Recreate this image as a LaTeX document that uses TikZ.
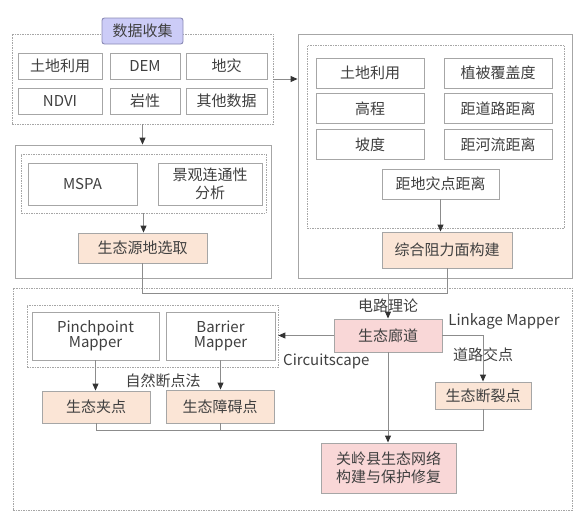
\documentclass[tikz,border=0pt]{standalone}
\usepackage{fontspec}
\setmainfont{Noto Sans CJK SC}
\usetikzlibrary{arrows.meta}
\definecolor{bordergray}{HTML}{A6A6A6}
\definecolor{linegray}{HTML}{8C8C8C}
\definecolor{txt}{HTML}{404040}
\definecolor{peach}{HTML}{FBE5D6}
\definecolor{pinkf}{HTML}{F9D7D7}
\definecolor{lav}{HTML}{CCCCF7}
\definecolor{lavb}{HTML}{8A8AB5}
\tikzset{
  box/.style={draw=bordergray, line width=0.9pt, fill=white, inner sep=0pt, text=txt,
    font=\fontsize{15}{18}\selectfont, align=center},
  pbox/.style={box, fill=peach},
  kbox/.style={box, fill=pinkf},
  dbox/.style={draw=bordergray, line width=0.7pt, dash pattern=on 1.5pt off 1pt, inner sep=0pt},
  sbox/.style={draw=bordergray, line width=0.9pt, inner sep=0pt},
  conn/.style={draw=linegray, line width=0.9pt},
  arr/.style={conn, -{Triangle[length=7pt,width=6pt,color=black!80]}},
  lbl/.style={text=txt, font=\fontsize{15}{18}\selectfont, inner sep=0pt}
}
\begin{document}
\begin{tikzpicture}[x=1pt,y=-1pt]
\useasboundingbox (0,0) rectangle (586,522);
% data collection
\node[dbox, minimum width=261pt, minimum height=90pt] (dc) at (142.5,79) {};
\node[box, fill=lav, draw=lavb, rounded corners=2.5pt, minimum width=81pt, minimum height=26pt] (title) at (142.5,31) {数据收集};
\node[box, minimum width=84pt, minimum height=26pt] (a1) at (60,66) {土地利用};
\node[box, minimum width=70pt, minimum height=26pt] (a2) at (145,66) {DEM};
\node[box, minimum width=81pt, minimum height=26pt] (a3) at (226.5,66) {地灾};
\node[box, minimum width=84pt, minimum height=26pt] (a4) at (60,101) {NDVI};
\node[box, minimum width=70pt, minimum height=26pt] (a5) at (145,101) {岩性};
\node[box, minimum width=81pt, minimum height=26pt] (a6) at (226.5,101) {其他数据};
% right block
\node[sbox, minimum width=274pt, minimum height=244pt] (rb) at (435,156) {};
\node[dbox, minimum width=257pt, minimum height=183pt] (ri) at (435.5,136.5) {};
\node[box, minimum width=108pt, minimum height=30pt] (b1) at (370,73) {土地利用};
\node[box, minimum width=108pt, minimum height=30pt] (b2) at (498,73) {植被覆盖度};
\node[box, minimum width=108pt, minimum height=30pt] (b3) at (370,108.5) {高程};
\node[box, minimum width=108pt, minimum height=30pt] (b4) at (498,108.5) {距道路距离};
\node[box, minimum width=108pt, minimum height=30pt] (b5) at (370,144.5) {坡度};
\node[box, minimum width=108pt, minimum height=30pt] (b6) at (498,144.5) {距河流距离};
\node[box, minimum width=117pt, minimum height=30pt] (dz) at (440.5,184) {距地灾点距离};
\node[pbox, minimum width=130pt, minimum height=36pt] (zh) at (447,250) {综合阻力面构建};
% left middle block
\node[sbox, minimum width=256pt, minimum height=133pt] (lb) at (143,211.5) {};
\node[dbox, minimum width=245pt, minimum height=59pt] (li) at (143.5,183.5) {};
\node[box, minimum width=109pt, minimum height=42pt] (ms) at (82.5,184) {MSPA};
\node[box, minimum width=104pt, minimum height=42pt] (jg) at (210,184) {景观连通性\\分析};
\node[pbox, minimum width=129pt, minimum height=30pt] (sy) at (142.5,248) {生态源地选取};
% bottom block
\node[dbox, minimum width=559pt, minimum height=222pt] (bb) at (292.5,399) {};
\node[dbox, minimum width=251pt, minimum height=62pt] (pi) at (152.5,336) {};
\node[box, font=\fontsize{15}{15}\selectfont, minimum width=127pt, minimum height=48pt] (pp) at (95.5,336) {Pinchpoint\\Mapper};
\node[box, font=\fontsize{15}{15}\selectfont, minimum width=109pt, minimum height=48pt] (bm) at (220.5,336) {Barrier\\Mapper};
\node[pbox, minimum width=108pt, minimum height=32pt] (jd) at (96,407) {生态夹点};
\node[pbox, minimum width=108pt, minimum height=33pt] (zd) at (220,406.5) {生态障碍点};
\node[kbox, minimum width=108pt, minimum height=33pt] (ld) at (388,335.5) {生态廊道};
\node[pbox, minimum width=96pt, minimum height=27pt] (dl) at (483,395.5) {生态断裂点};
\node[kbox, minimum width=135pt, minimum height=50pt] (gl) at (388.5,468) {关岭县生态网络\\构建与保护修复};
% labels
\node[lbl] (l1) at (388,306) {电路理论};
\node[lbl] (l2) at (504,321) {Linkage Mapper};
\node[lbl, anchor=west] (l3) at (283,361) {Circuitscape};
\node[lbl] (l4) at (483,355) {道路交点};
\node[lbl] (l5) at (163,381) {自然断点法};
% connectors
\draw[arr] (dc.east) -- (dc.east -| rb.west);
\draw[arr] (dc.south) -- (dc.south |- lb.north);
\draw[arr] (li.south) -- (li.south |- sy.north);
\draw[arr] (dz.south) -- (dz.south |- zh.north);
\coordinate (j) at (388,293);
\draw[conn] (sy.south) |- (j);
\draw[conn] (zh.south) |- (j);
\draw[arr] (j) -- (ld.north);
\draw[arr] (ld.west) -- (ld.west -| pi.east);
\draw[arr] (ld.east) -| (dl.north);
\draw[arr] (ld.south) -- (ld.south |- gl.north);
\draw[arr] (pp.south) -- (pp.south |- jd.north);
\draw[arr] (bm.south) -- (bm.south |- zd.north);
\coordinate (k) at (483,430);
\draw[conn] (jd.south) |- (k) -- (dl.south);
\draw[conn] (zd.south) -- (zd.south |- k);
\end{tikzpicture}
\end{document}
